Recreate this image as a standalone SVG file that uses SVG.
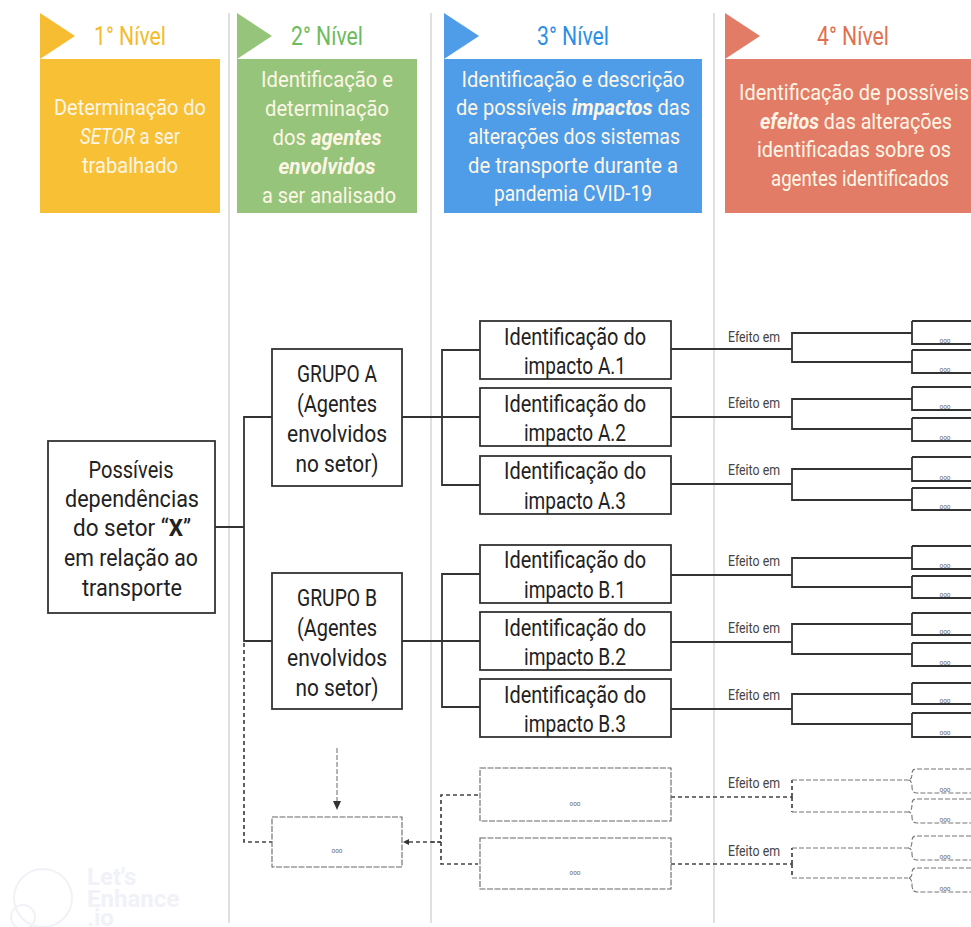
<svg xmlns="http://www.w3.org/2000/svg" width="971" height="927" viewBox="0 0 971 927">
<style>
text{font-family:"Roboto","Noto Sans",sans-serif;text-anchor:middle}
.lvl{font-size:25px}
.hd{font-size:22px;fill:#fdf6e6}
.em{font-style:italic;font-weight:700}
.nd{font-size:24px;fill:#222}
.ef{font-size:14px;fill:#444;text-anchor:start}
.tiny{font-size:6.5px;fill:#666}
.box{fill:#fff;stroke:#333;stroke-width:1.8}
.dbox{fill:#fff;stroke:#666;stroke-width:1.1;stroke-dasharray:6 1.5}
.ln{fill:none;stroke:#333;stroke-width:1.8}
.dl{fill:none;stroke:#444;stroke-width:1.7;stroke-dasharray:4 3}
.dt{fill:none;stroke:#777;stroke-width:1.1;stroke-dasharray:5 2}
.sep{stroke:#cfcfc9;stroke-width:1.3}
.wm{font-size:24px;font-weight:700;fill:#f0f2f8;text-anchor:start}
</style>
<defs><marker id="ah" markerWidth="8" markerHeight="8" refX="5" refY="3" orient="auto" markerUnits="userSpaceOnUse"><path d="M0 0L6 3L0 6Z" fill="#333"/></marker></defs>
<rect width="971" height="927" fill="#fff"/>
<g id="separators"><path class="sep" d="M229 13V923M431 13V923M714 13V923"/></g>
<g id="watermark" fill="none" stroke="#f0f2f8" stroke-width="2"><circle cx="43" cy="898" r="29"/><circle cx="23" cy="917" r="12"/>
<text class="wm" x="87" y="885" stroke="none">Let's</text><text class="wm" x="87" y="907" stroke="none">Enhance</text><text class="wm" x="87" y="926" stroke="none">.io</text></g>

<g id="level1"><path d="M40 13L75 36L40 59Z" fill="#f6bd33"/><rect x="40" y="59" width="180" height="154" fill="#f8c035"/>
<text class="lvl" x="130" y="45" fill="#f4bb2c" textLength="72" lengthAdjust="spacingAndGlyphs">1° Nível</text>
<text class="hd" x="130" y="115" textLength="152" lengthAdjust="spacingAndGlyphs">Determinação do</text><text class="hd" x="130" y="144" textLength="100" lengthAdjust="spacingAndGlyphs"><tspan font-style="italic">SETOR</tspan> a ser</text><text class="hd" x="130" y="173" textLength="96" lengthAdjust="spacingAndGlyphs">trabalhado</text></g>
<g id="level2"><path d="M237 13L272 36L237 59Z" fill="#95c47a"/><rect x="237" y="59" width="180" height="154" fill="#95c47a"/>
<text class="lvl" x="327" y="45" fill="#6dbb5a" textLength="72" lengthAdjust="spacingAndGlyphs">2° Nível</text>
<text class="hd" x="327" y="87" textLength="132" lengthAdjust="spacingAndGlyphs">Identificação e</text><text class="hd" x="327" y="116" textLength="124" lengthAdjust="spacingAndGlyphs">determinação</text><text class="hd" x="327" y="145" textLength="109" lengthAdjust="spacingAndGlyphs">dos <tspan class="em">agentes</tspan></text><text class="hd" x="327" y="174" textLength="97" lengthAdjust="spacingAndGlyphs"><tspan class="em">envolvidos</tspan></text><text class="hd" x="329" y="203" textLength="134" lengthAdjust="spacingAndGlyphs">a ser analisado</text></g>
<g id="level3"><path d="M444 13L479 36L444 59Z" fill="#4f9de8"/><rect x="444" y="59" width="258" height="154" fill="#4f9de8"/>
<text class="lvl" x="573" y="45" fill="#2c8fe6" textLength="72" lengthAdjust="spacingAndGlyphs">3° Nível</text>
<text class="hd" x="573" y="87" textLength="223" lengthAdjust="spacingAndGlyphs">Identificação e descrição</text><text class="hd" x="573" y="115" textLength="234" lengthAdjust="spacingAndGlyphs">de possíveis <tspan class="em">impactos</tspan> das</text><text class="hd" x="574" y="144" textLength="212" lengthAdjust="spacingAndGlyphs">alterações dos sistemas</text><text class="hd" x="573" y="173" textLength="210" lengthAdjust="spacingAndGlyphs">de transporte durante a</text><text class="hd" x="573" y="201" textLength="158" lengthAdjust="spacingAndGlyphs">pandemia CVID-19</text></g>
<g id="level4"><path d="M725 13L760 36L725 59Z" fill="#e37c66"/><rect x="725" y="59" width="246" height="154" fill="#e37c66"/>
<text class="lvl" x="853" y="45" fill="#e0704f" textLength="72" lengthAdjust="spacingAndGlyphs">4° Nível</text>
<text class="hd" x="854" y="100" textLength="230" lengthAdjust="spacingAndGlyphs">Identificação de possíveis</text><text class="hd" x="856" y="129" textLength="192" lengthAdjust="spacingAndGlyphs"><tspan class="em">efeitos</tspan> das alterações</text><text class="hd" x="854" y="157" textLength="194" lengthAdjust="spacingAndGlyphs">identificadas sobre os</text><text class="hd" x="860" y="186" textLength="178" lengthAdjust="spacingAndGlyphs">agentes identificados</text></g>

<g id="connectors">
<path class="ln" d="M215 527H244M272 417H244V641H272M402 417H480M480 350H442V485H480M402 641H480M480 574H442V707H480"/>
<path class="ln" d="M671 349H792M912 333H792V362H912M912 321V344H971M912 350V373H971"/>
<path class="ln" d="M671 417H792M912 399H792V429H912M912 387V410H971M912 418V441H971"/>
<path class="ln" d="M671 484H792M912 469H792V500H912M912 457V481H971M912 488V510H971"/>
<path class="ln" d="M671 575H792M912 558H792V587H912M912 546V569H971M912 576V598H971"/>
<path class="ln" d="M671 642H792M912 624H792V654H912M912 613V635H971M912 643V666H971"/>
<path class="ln" d="M671 709H792M912 694H792V724H912M912 683V704H971M912 713V737H971"/>
<path class="ln" d="M912 321H971M912 350H971M912 387H971M912 418H971M912 457H971M912 488H971M912 546H971M912 576H971M912 613H971M912 643H971M912 683H971M912 713H971"/>
<path class="dl" d="M244 643V842H272M441 842H405"/>
<path class="dl" d="M431 842H441M478 795H441V864H478"/>
<path class="dt" d="M337 748V805"/>
<path d="M337 810L333 801H341Z" fill="#333"/>
<path d="M403 842L409 839V845Z" fill="#333"/>
<path class="dl" d="M671 797H792M671 864H792"/>
<path class="dl" d="M792 797V780M792 797V812M792 864V848M792 864V878"/>
<path class="dt" d="M792 780H908M792 812H908M792 848H908M792 878H908"/>
<path class="dt" d="M971 769H916Q912 769 912 774Q912 780 908 780Q912 780 912 787Q912 793 917 793H971M971 799H916Q912 799 912 804Q912 812 908 812Q912 812 912 817Q912 823 917 823H971M971 836H916Q912 836 912 841Q912 848 908 848Q912 848 912 854Q912 860 917 860H971M971 868H916Q912 868 912 873Q912 878 908 878Q912 878 912 885Q912 892 917 892H971"/>
</g>

<g id="root"><rect class="box" x="48" y="441" width="167" height="172"/><text class="nd" x="131" y="478" textLength="85" lengthAdjust="spacingAndGlyphs">Possíveis</text><text class="nd" x="132" y="507" textLength="134" lengthAdjust="spacingAndGlyphs">dependências</text><text class="nd" x="132" y="536" textLength="118" lengthAdjust="spacingAndGlyphs">do setor  “<tspan font-weight="700">X</tspan>”</text><text class="nd" x="131" y="566" textLength="134" lengthAdjust="spacingAndGlyphs">em relação ao</text><text class="nd" x="132" y="596" textLength="100" lengthAdjust="spacingAndGlyphs">transporte</text></g>
<g id="grupoA"><rect class="box" x="272" y="349" width="130" height="137"/><text class="nd" x="337" y="382" textLength="80" lengthAdjust="spacingAndGlyphs">GRUPO A</text><text class="nd" x="337" y="412" textLength="80" lengthAdjust="spacingAndGlyphs">(Agentes</text><text class="nd" x="337" y="442" textLength="100" lengthAdjust="spacingAndGlyphs">envolvidos</text><text class="nd" x="337" y="472" textLength="83" lengthAdjust="spacingAndGlyphs">no setor)</text></g>
<g id="grupoB"><rect class="box" x="272" y="573" width="130" height="136"/><text class="nd" x="337" y="606" textLength="80" lengthAdjust="spacingAndGlyphs">GRUPO B</text><text class="nd" x="337" y="636" textLength="80" lengthAdjust="spacingAndGlyphs">(Agentes</text><text class="nd" x="337" y="666" textLength="100" lengthAdjust="spacingAndGlyphs">envolvidos</text><text class="nd" x="337" y="696" textLength="83" lengthAdjust="spacingAndGlyphs">no setor)</text></g>
<g id="impactA1"><rect class="box" x="480" y="321" width="191" height="58"/><text class="nd" x="575" y="345" textLength="142" lengthAdjust="spacingAndGlyphs">Identificação do</text><text class="nd" x="575" y="374" textLength="102" lengthAdjust="spacingAndGlyphs">impacto A.1</text></g>
<g id="impactA2"><rect class="box" x="480" y="388" width="191" height="58"/><text class="nd" x="575" y="412" textLength="142" lengthAdjust="spacingAndGlyphs">Identificação do</text><text class="nd" x="575" y="441" textLength="102" lengthAdjust="spacingAndGlyphs">impacto A.2</text></g>
<g id="impactA3"><rect class="box" x="480" y="456" width="191" height="58"/><text class="nd" x="575" y="479" textLength="142" lengthAdjust="spacingAndGlyphs">Identificação do</text><text class="nd" x="575" y="509" textLength="102" lengthAdjust="spacingAndGlyphs">impacto A.3</text></g>
<g id="impactB1"><rect class="box" x="480" y="545" width="191" height="58"/><text class="nd" x="575" y="568" textLength="142" lengthAdjust="spacingAndGlyphs">Identificação do</text><text class="nd" x="575" y="598" textLength="102" lengthAdjust="spacingAndGlyphs">impacto B.1</text></g>
<g id="impactB2"><rect class="box" x="480" y="612" width="191" height="58"/><text class="nd" x="575" y="636" textLength="142" lengthAdjust="spacingAndGlyphs">Identificação do</text><text class="nd" x="575" y="665" textLength="102" lengthAdjust="spacingAndGlyphs">impacto B.2</text></g>
<g id="impactB3"><rect class="box" x="480" y="679" width="191" height="58"/><text class="nd" x="575" y="703" textLength="142" lengthAdjust="spacingAndGlyphs">Identificação do</text><text class="nd" x="575" y="732" textLength="102" lengthAdjust="spacingAndGlyphs">impacto B.3</text></g>
<g id="groupDots"><rect class="dbox" x="272" y="817" width="130" height="50"/><text class="tiny" x="337" y="853" textLength="11" lengthAdjust="spacingAndGlyphs">ooo</text></g>
<g id="impactDots1"><rect class="dbox" x="480" y="768" width="191" height="53"/><text class="tiny" x="575" y="806" textLength="11" lengthAdjust="spacingAndGlyphs">ooo</text></g>
<g id="impactDots2"><rect class="dbox" x="480" y="838" width="191" height="51"/><text class="tiny" x="575" y="875" textLength="11" lengthAdjust="spacingAndGlyphs">ooo</text></g>
<g id="effects">
<text class="ef" x="728" y="342" textLength="52" lengthAdjust="spacingAndGlyphs">Efeito em</text><text class="ef" x="728" y="408" textLength="52" lengthAdjust="spacingAndGlyphs">Efeito em</text><text class="ef" x="728" y="475" textLength="52" lengthAdjust="spacingAndGlyphs">Efeito em</text><text class="ef" x="728" y="566" textLength="52" lengthAdjust="spacingAndGlyphs">Efeito em</text><text class="ef" x="728" y="633" textLength="52" lengthAdjust="spacingAndGlyphs">Efeito em</text><text class="ef" x="728" y="700" textLength="52" lengthAdjust="spacingAndGlyphs">Efeito em</text><text class="ef" x="728" y="788" textLength="52" lengthAdjust="spacingAndGlyphs">Efeito em</text><text class="ef" x="728" y="856" textLength="52" lengthAdjust="spacingAndGlyphs">Efeito em</text>
<text class="tiny" x="945" y="343">ooo</text><text class="tiny" x="945" y="372">ooo</text><text class="tiny" x="945" y="409">ooo</text><text class="tiny" x="945" y="440">ooo</text><text class="tiny" x="945" y="480">ooo</text><text class="tiny" x="945" y="509">ooo</text><text class="tiny" x="945" y="568">ooo</text><text class="tiny" x="945" y="597">ooo</text><text class="tiny" x="945" y="634">ooo</text><text class="tiny" x="945" y="665">ooo</text><text class="tiny" x="945" y="703">ooo</text><text class="tiny" x="945" y="735">ooo</text><text class="tiny" x="945" y="792">ooo</text><text class="tiny" x="945" y="822">ooo</text><text class="tiny" x="945" y="859">ooo</text><text class="tiny" x="945" y="891">ooo</text>
</g>
</svg>
